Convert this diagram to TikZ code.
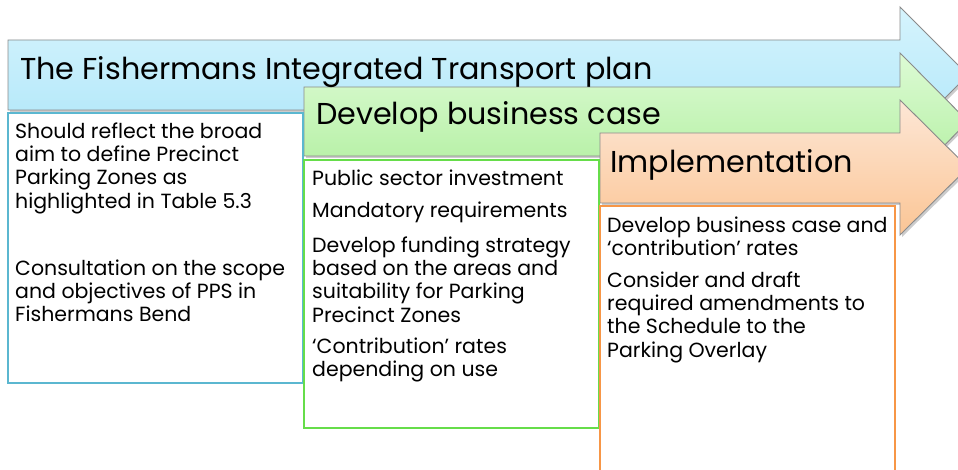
\documentclass[tikz,border=0pt]{standalone}
\usepackage{fontspec}
\setmainfont{Poppins}
\definecolor{bluetop}{HTML}{D6F4FD}
\definecolor{bluebot}{HTML}{AEE6F9}
\definecolor{greentop}{HTML}{DDFBD5}
\definecolor{greenbot}{HTML}{AEEE9B}
\definecolor{orangetop}{HTML}{FDE7D6}
\definecolor{orangebot}{HTML}{FBC595}
\definecolor{outl}{HTML}{8A8A8A}
\definecolor{blueline}{HTML}{5BB7D0}
\definecolor{greenline}{HTML}{66DD4A}
\definecolor{orangeline}{HTML}{F79646}
\tikzset{
  arrowshape/.style={draw=outl, line width=0.9pt, line join=miter},
  shadowshape/.style={fill=black, opacity=0.2},
  stagebox/.style={fill=white, line width=1.4pt},
  titletext/.style={anchor=base west, inner sep=0pt, font=\fontsize{30.2}{36}\selectfont},
  bodytext/.style={anchor=north west, inner sep=0pt, align=left, font=\fontsize{20.5}{23.3}\selectfont},
}
\begin{document}
\begin{tikzpicture}[x=1pt,y=-1pt]
\useasboundingbox (0,0) rectangle (958,470);
\clip (0,0) rectangle (958,470);
% blue arrow
\fill[shadowshape] (10,42) -- (902,42) -- (902,9) -- (970,77) -- (902,145) -- (902,112) -- (10,112) -- cycle;
\path[arrowshape, top color=bluetop, bottom color=bluebot] (8,40) -- (900,40) -- (900,7) -- (968,75) -- (900,143) -- (900,110) -- (8,110) -- cycle;
% green arrow
\fill[shadowshape] (306,89) -- (902,89) -- (902,55) -- (970,123.5) -- (902,192) -- (902,158) -- (306,158) -- cycle;
\path[arrowshape, top color=greentop, bottom color=greenbot] (304,87) -- (900,87) -- (900,53) -- (968,121.5) -- (900,190) -- (900,156) -- (304,156) -- cycle;
% orange arrow
\fill[shadowshape] (602,135) -- (902,135) -- (902,102) -- (970,170) -- (902,237) -- (902,205) -- (602,205) -- cycle;
\path[arrowshape, top color=orangetop, bottom color=orangebot] (600,133) -- (900,133) -- (900,100) -- (968,167.5) -- (900,235) -- (900,203) -- (600,203) -- cycle;
% boxes
\draw[stagebox, draw=blueline] (8,113) rectangle (303,383);
\draw[stagebox, draw=greenline] (304,160) rectangle (599,428);
\draw[stagebox, draw=orangeline] (600,206) rectangle (895,480);
% titles
\node[titletext] (t1) at (20,80) {The Fishermans Integrated Transport plan};
\node[titletext] (t2) at (316,125) {Develop business case};
\node[titletext] (t3) at (610,173) {Implementation};
% blue box text
\node[bodytext] (b1) at (15,121.7) {\strut Should reflect the broad\\aim to define Precinct\\Parking Zones as\\highlighted in Table 5.3};
\node[bodytext] (b2) at (15,258.7) {\strut Consultation on the scope\\and objectives of PPS in\\Fishermans Bend};
% green box text
\node[bodytext] (g1) at (312,168.7) {\strut Public sector investment};
\node[bodytext] (g2) at (312,200.7) {\strut Mandatory requirements};
\node[bodytext] (g3) at (312,235.7) {\strut Develop funding strategy\\based on the areas and\\suitability for Parking\\Precinct Zones};
\node[bodytext] (g4) at (312,336.7) {\strut ‘Contribution’ rates\\depending on use};
% orange box text
\node[bodytext] (o1) at (607,215.7) {\strut Develop business case and\\‘contribution’ rates};
\node[bodytext] (o2) at (607,270.7) {\strut Consider and draft\\required amendments to\\the Schedule to the\\Parking Overlay};
\end{tikzpicture}
\end{document}
